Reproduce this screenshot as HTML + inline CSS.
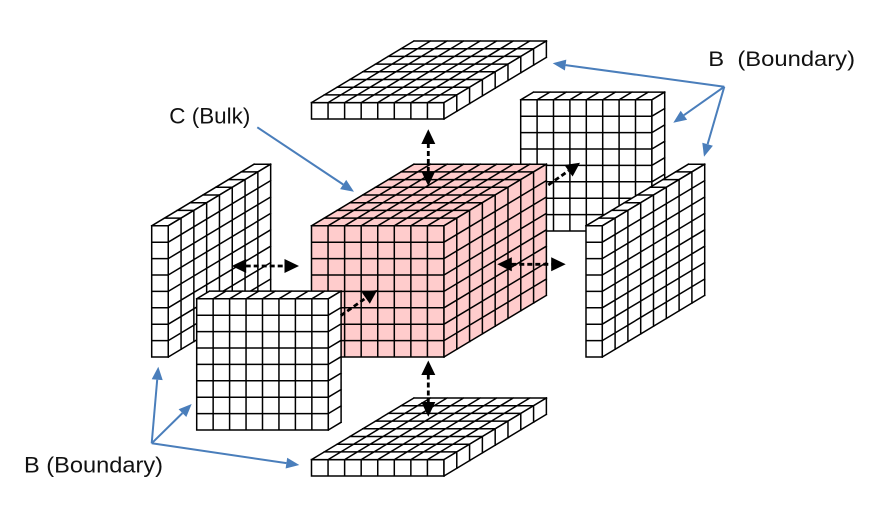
<!DOCTYPE html>
<html>
<head>
<meta charset="utf-8">
<style>
html,body{margin:0;padding:0;background:#fff;}
svg{display:block;}
text{font-family:"Liberation Sans",sans-serif;fill:#111;}
</style>
</head>
<body>
<svg width="883" height="506" viewBox="0 0 883 506" xmlns="http://www.w3.org/2000/svg">
<defs>
<g id="g88">
<rect x="0" y="0" width="8" height="8"/>
<path d="M0 0V8M1 0V8M2 0V8M3 0V8M4 0V8M5 0V8M6 0V8M7 0V8M8 0V8M0 0H8M0 1H8M0 2H8M0 3H8M0 4H8M0 5H8M0 6H8M0 7H8M0 8H8" fill="none" stroke="#000" stroke-width="1.5" vector-effect="non-scaling-stroke" stroke-linecap="square"/>
</g>
<g id="g81">
<rect x="0" y="0" width="8" height="1"/>
<path d="M0 0V1M1 0V1M2 0V1M3 0V1M4 0V1M5 0V1M6 0V1M7 0V1M8 0V1M0 0H8M0 1H8" fill="none" stroke="#000" stroke-width="1.5" vector-effect="non-scaling-stroke" stroke-linecap="square"/>
</g>
</defs>

<!-- back slab (top right) -->
<use href="#g88" fill="#fff" transform="matrix(16.4,0,0,-16.4,520.7,231)"/>
<use href="#g81" fill="#fff" transform="matrix(16.4,0,12.8,-7.7,520.7,99.8)"/>
<use href="#g81" fill="#fff" transform="matrix(0,-16.4,12.8,-7.7,651.9,231)"/>

<!-- left slab -->
<use href="#g81" fill="#fff" transform="matrix(0,-16.4,16.56,0,151.7,357)"/>
<use href="#g81" fill="#fff" transform="matrix(12.8,-7.7,16.56,0,151.7,225.8)"/>
<use href="#g88" fill="#fff" transform="matrix(12.8,-7.7,0,-16.4,168.26,357)"/>

<!-- top plate -->
<use href="#g81" fill="#fff" transform="matrix(16.56,0,0,-16.4,311.5,119)"/>
<use href="#g88" fill="#fff" transform="matrix(16.56,0,12.8,-7.7,311.5,102.6)"/>
<use href="#g81" fill="#fff" transform="matrix(12.8,-7.7,0,-16.4,443.98,119)"/>

<!-- central cube -->
<use href="#g88" fill="#ffcccc" transform="matrix(16.56,0,0,-16.4,311.5,357)"/>
<use href="#g88" fill="#ffcccc" transform="matrix(16.56,0,12.8,-7.7,311.5,225.8)"/>
<use href="#g88" fill="#ffcccc" transform="matrix(12.8,-7.7,0,-16.4,443.98,357)"/>

<!-- right slab -->
<use href="#g81" fill="#fff" transform="matrix(0,-16.4,16.3,0,586,357)"/>
<use href="#g81" fill="#fff" transform="matrix(12.8,-7.7,16.3,0,586,225.8)"/>
<use href="#g88" fill="#fff" transform="matrix(12.8,-7.7,0,-16.4,602.3,357)"/>

<!-- bottom plate -->
<use href="#g81" fill="#fff" transform="matrix(16.56,0,0,-16.4,311.5,476)"/>
<use href="#g88" fill="#fff" transform="matrix(16.56,0,12.8,-7.7,311.5,459.6)"/>
<use href="#g81" fill="#fff" transform="matrix(12.8,-7.7,0,-16.4,443.98,476)"/>

<!-- front slab -->
<use href="#g88" fill="#fff" transform="matrix(16.45,0,0,-16.4,196.7,430)"/>
<use href="#g81" fill="#fff" transform="matrix(16.45,0,12.8,-7.7,196.7,298.8)"/>
<use href="#g81" fill="#fff" transform="matrix(0,-16.4,12.8,-7.7,328.3,430)"/>

<!-- dashed black arrows -->
<g stroke="#000" stroke-width="2.8" stroke-dasharray="5 3" fill="none">
<line x1="428.3" y1="143" x2="428.3" y2="172"/>
<line x1="428.3" y1="374.5" x2="428.3" y2="402.7"/>
<line x1="245.7" y1="266" x2="285" y2="266"/>
<line x1="511.3" y1="264.3" x2="551.7" y2="264.3"/>
<line x1="340.7" y1="315.7" x2="365.8" y2="298"/>
<line x1="548.3" y1="185" x2="568.5" y2="170.8"/>
</g>
<g fill="#000">
<polygon points="428.3,129.3 421.3,144 435.3,144"/>
<polygon points="428.3,186 421.3,171.3 435.3,171.3"/>
<polygon points="428.3,360.5 421.3,375 435.3,375"/>
<polygon points="428.3,416.7 421.3,402 435.3,402"/>
<polygon points="231.7,266 246.2,259 246.2,273"/>
<polygon points="299,266 284.5,259 284.5,273"/>
<polygon points="497.3,264.3 511.8,257.3 511.8,271.3"/>
<polygon points="565.7,264.3 551.2,257.3 551.2,271.3"/>
<polygon points="377.3,290 369.8,303.8 361.7,292.3"/>
<polygon points="580,162.7 572.6,176.5 564.4,165"/>
</g>

<!-- blue arrows -->
<g stroke="#4a7ebb" stroke-width="2" fill="none">
<line x1="724.3" y1="86.7" x2="565.6" y2="65.1"/>
<line x1="724.3" y1="86.7" x2="683.9" y2="115.2"/>
<line x1="724.3" y1="86.7" x2="707.6" y2="144.2"/>
<line x1="151.7" y1="443.3" x2="157.2" y2="379.7"/>
<line x1="151.7" y1="443.3" x2="182.4" y2="413.1"/>
<line x1="151.7" y1="443.3" x2="286.4" y2="463.1"/>
<line x1="257.3" y1="127.3" x2="343.2" y2="184.5"/>
</g>
<g fill="#4a7ebb">
<polygon points="552.7,63.3 566.3,59.6 564.9,70.5"/>
<polygon points="673.3,122.7 680.7,110.7 687.1,119.7"/>
<polygon points="704,156.7 712.9,145.7 702.3,142.7"/>
<polygon points="158.3,366.7 162.7,380.1 151.7,379.2"/>
<polygon points="191.7,404 186.3,417 178.6,409.2"/>
<polygon points="299.3,465 285.6,468.5 287.2,457.7"/>
<polygon points="354,191.7 340.1,189.1 346.2,179.9"/>
</g>

<!-- labels -->
<text x="169.3" y="123.3" font-size="22" textLength="81" lengthAdjust="spacingAndGlyphs">C (Bulk)</text>
<text x="708.3" y="66" font-size="21" textLength="146.7" lengthAdjust="spacingAndGlyphs" xml:space="preserve">B  (Boundary)</text>
<text x="24" y="472.5" font-size="22" textLength="139" lengthAdjust="spacingAndGlyphs">B (Boundary)</text>
</svg>
</body>
</html>
